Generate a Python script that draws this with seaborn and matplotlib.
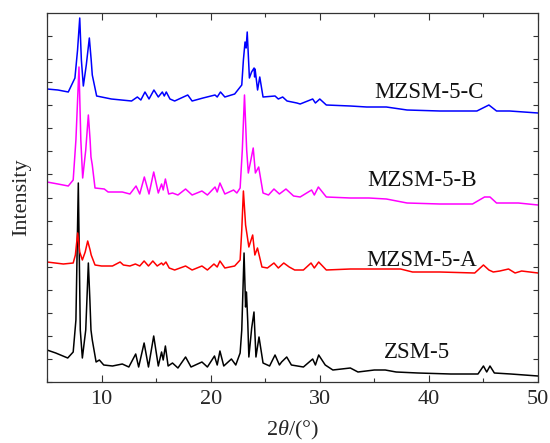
import numpy as np
import pandas as pd
import matplotlib
matplotlib.use("Agg")
import matplotlib.pyplot as plt
import seaborn as sns
from matplotlib.ticker import MultipleLocator

# ---- data (2theta in degrees, intensity in a.u., already stacked) ----
zsm5_x = [5.0, 5.8, 6.9, 7.4, 7.65, 7.87, 8.05, 8.24, 8.55, 8.79, 8.93, 9.03, 9.15, 9.5, 9.8,
          10.2, 11.0, 11.9, 12.5, 13.13, 13.4, 13.9, 14.3, 14.78, 15.2, 15.5, 15.65, 15.85, 16.1,
          16.5, 17.0, 17.7, 18.2, 19.2, 19.7, 20.35, 20.6, 20.85, 21.2, 21.9, 22.3, 22.7, 22.85,
          23.06, 23.2, 23.28, 23.4, 23.5, 23.76, 23.97, 24.15, 24.43, 24.8, 25.4, 25.9, 26.3, 26.5,
          26.97, 27.4, 28.5, 29.35, 29.6, 29.9, 30.5, 31.2, 32.8, 33.5, 35.0, 36.0, 37.0, 39.0,
          42.0, 44.5, 45.0, 45.3, 45.6, 46.0, 47.5, 50.0]
zsm5_y = [32, 29, 24, 30, 62, 199, 52, 24, 52, 119, 82, 52, 42, 20, 22,
          17, 16, 18, 15, 28, 15, 39, 15, 46, 16, 30, 22, 36, 16,
          19, 14, 25, 15, 20, 15, 26, 17, 31, 16, 23, 17, 29, 52,
          129, 75, 90, 60, 25, 54, 70, 25, 45, 19, 16, 27, 17, 20,
          25, 17, 15, 23, 17, 27, 17, 12, 14, 10, 12, 12, 10, 9,
          8, 8, 16, 10, 16, 9, 8, 6]

a_x = [5.0, 6.5, 7.4, 7.6, 7.81, 8.0, 8.24, 8.5, 8.73, 8.95, 9.05, 9.4, 10.0, 11.0, 11.7, 12.0,
       12.6, 13.1, 13.5, 13.9, 14.3, 14.7, 15.1, 15.5, 15.65, 15.9, 16.2, 16.7, 17.7, 18.3, 19.2,
       19.7, 20.3, 20.6, 20.85, 21.3, 22.2, 22.7, 22.85, 23.0, 23.2, 23.5, 23.85, 24.05, 24.29,
       24.7, 25.2, 25.8, 26.2, 26.7, 27.2, 27.7, 28.5, 29.2, 29.5, 29.9, 30.6, 32.8, 34.3, 36.0,
       37.4, 38.5, 41.0, 44.2, 45.0, 45.5, 45.9, 46.5, 47.3, 47.9, 48.5, 50.0]
a_y = [120, 118, 119, 127, 149, 130, 122, 130, 141, 132, 127, 117, 116, 116, 120, 117,
       116, 118, 116, 121, 116, 121, 116, 119, 117, 120, 114, 112, 116, 112, 116,
       112, 118, 115, 121, 114, 116, 122, 152, 191, 157, 135, 147, 127, 134,
       115, 114, 119, 114, 119, 115, 112, 112, 119, 114, 120, 112, 113, 113, 113,
       113, 110, 110, 109, 117, 112, 110, 111, 113, 109, 111, 109]

b_x = [5.0, 6.0, 6.95, 7.4, 7.65, 7.93, 8.1, 8.27, 8.55, 8.79, 8.95, 9.03, 9.15, 9.4, 10.25,
       10.6, 11.9, 12.6, 13.16, 13.5, 13.92, 14.35, 14.78, 15.2, 15.5, 15.65, 15.85, 16.15, 16.5,
       17.0, 17.7, 18.3, 19.2, 19.7, 20.4, 20.6, 20.85, 21.3, 22.1, 22.4, 22.7, 22.9, 23.1, 23.3,
       23.45, 23.9, 24.1, 24.4, 24.8, 25.3, 25.8, 26.3, 26.9, 27.6, 28.2, 29.25, 29.5, 29.87,
       30.6, 32.8, 34.5, 36.1, 38.0, 41.0, 44.0, 45.1, 45.6, 46.2, 47.3, 48.2, 50.0]
b_y = [200, 198, 196, 202, 242, 315, 242, 204, 232, 267, 242, 225, 217, 194, 193,
       190, 190, 188, 196, 188, 205, 188, 210, 189, 198, 192, 203, 188, 189,
       187, 193, 187, 191, 187, 195, 190, 199, 188, 192, 189, 194, 232, 287, 232,
       209, 234, 209, 215, 189, 187, 193, 188, 193, 186, 185, 192, 187, 195,
       185, 184, 184, 183, 179, 178, 178, 185, 185, 179, 179, 179, 177]

c_x = [5.0, 6.0, 6.95, 7.56, 7.8, 8.0, 8.15, 8.33, 8.6, 8.88, 9.05, 9.15, 9.55, 10.9, 12.75,
       13.28, 13.6, 13.98, 14.35, 14.8, 15.2, 15.57, 15.75, 15.93, 16.27, 16.7, 17.9, 18.3, 19.3,
       20.4, 20.6, 20.9, 21.3, 22.2, 22.85, 23.0, 23.15, 23.25, 23.35, 23.55, 23.75, 23.98, 24.03,
       24.07, 24.3, 24.5, 24.8, 25.9, 26.2, 26.6, 27.0, 27.9, 28.2, 29.35, 29.6, 30.0, 30.6,
       32.8, 34.3, 36.1, 38.0, 41.0, 44.4, 45.5, 46.2, 47.4, 50.0]
c_y = [293, 292, 290, 304, 332, 364, 322, 296, 317, 344, 322, 307, 286, 283, 281,
       285, 282, 290, 283, 292, 285, 290, 286, 290, 283, 281, 287, 281, 284,
       287, 285, 290, 285, 288, 297, 322, 340, 334, 350, 304, 310, 314, 305,
       313, 292, 305, 285, 286, 283, 285, 281, 279, 278, 283, 279, 283, 277,
       276, 275, 275, 272, 271, 271, 277, 271, 271, 269]

labels = ["ZSM-5", "MZSM-5-A", "MZSM-5-B", "MZSM-5-C"]
colors = ["#000000", "#FF0000", "#FF00FF", "#0000FF"]
label_pos = [(38.9, 29), (39.3, 122), (39.4, 202), (40.0, 290)]

# ---- plot ----
sns.set_theme(style="ticks")
plt.rcParams["font.family"] = ["Liberation Serif", "DejaVu Serif"]
plt.rcParams["mathtext.fontset"] = "custom"
plt.rcParams["mathtext.rm"] = "Liberation Serif"
plt.rcParams["mathtext.it"] = "Liberation Serif:italic"

fig = plt.figure(figsize=(5.5, 4.43), dpi=100)
ax = fig.add_axes([47 / 550, 61 / 443, 491 / 550, 369 / 443])

series = [(zsm5_x, zsm5_y), (a_x, a_y), (b_x, b_y), (c_x, c_y)]
for (xs, ys), lab, col in zip(series, labels, colors):
    df = pd.DataFrame({"x": xs, "y": ys})
    sns.lineplot(data=df, x="x", y="y", color=col, linewidth=1.1, ax=ax,
                 estimator=None, sort=False)

for lab, (tx, ty) in zip(labels, label_pos):
    ax.text(tx, ty, lab, fontsize=16.5, ha="center", va="center", color="#111111")

ax.set_xlim(5, 50)
ax.set_ylim(0, 369)
ax.xaxis.set_major_locator(MultipleLocator(10))
ax.xaxis.set_minor_locator(MultipleLocator(5))
ax.set_yticks(np.arange(0, 369, 369 / 16))
ax.set_yticklabels([])
ax.tick_params(axis="both", which="both", direction="in", top=True, right=True,
               color="#333333", width=0.8)
ax.tick_params(axis="x", which="major", length=5, labelsize=16, pad=6)
ax.tick_params(axis="x", which="minor", length=3)
ax.tick_params(axis="y", which="major", length=3.5)
for s in ax.spines.values():
    s.set_color("#333333")
    s.set_linewidth(0.9)

ax.set_xlabel(r"2$\mathit{\theta}$/(°)", fontsize=16, labelpad=7)
ax.set_ylabel("Intensity", fontsize=16, labelpad=8)

fig.savefig("out.png", dpi=100)
